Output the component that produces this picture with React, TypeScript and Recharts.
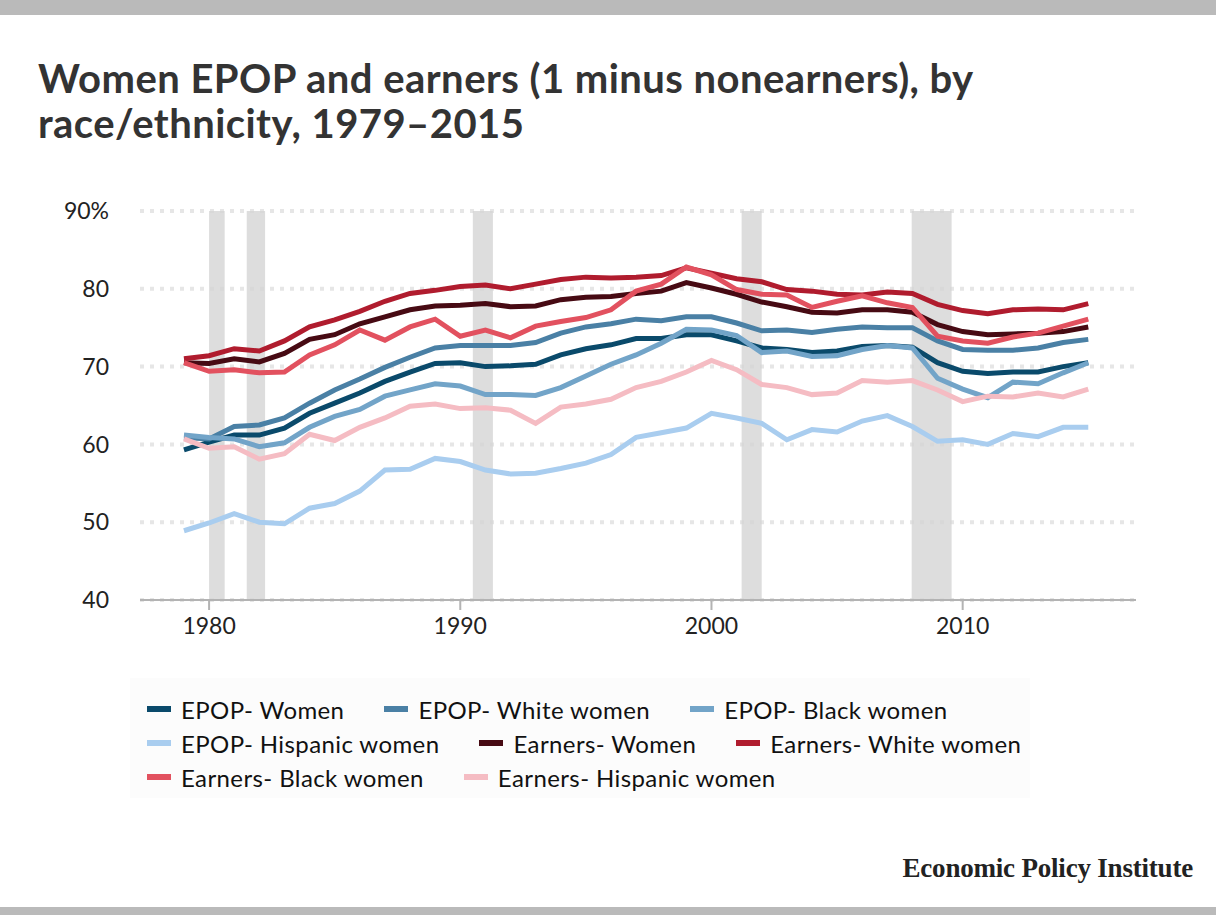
import React from "react"
import {
  LineChart,
  Line,
  XAxis,
  YAxis,
  CartesianGrid,
  ReferenceArea,
  Legend,
} from "recharts"

const years = [
  1979, 1980, 1981, 1982, 1983, 1984, 1985, 1986, 1987, 1988, 1989, 1990,
  1991, 1992, 1993, 1994, 1995, 1996, 1997, 1998, 1999, 2000,
  2001, 2002, 2003, 2004, 2005, 2006, 2007, 2008, 2009, 2010,
  2011, 2012, 2013, 2014, 2015,
]

const epopWomen = [
  59.3, 60.3, 61.2, 61.2, 62.1, 64.0, 65.3, 66.6, 68.1, 69.3, 70.4, 70.5,
  70.0, 70.1, 70.3, 71.5, 72.3, 72.8, 73.6, 73.6, 74.1, 74.1,
  73.3, 72.4, 72.2, 71.8, 72.0, 72.6, 72.7, 72.5, 70.5, 69.4,
  69.1, 69.3, 69.3, 70.0, 70.5,
]

const epopWhite = [
  60.9, 60.7, 62.3, 62.5, 63.4, 65.3, 67.0, 68.4, 69.9, 71.2, 72.4, 72.7,
  72.7, 72.7, 73.1, 74.3, 75.1, 75.5, 76.1, 75.9, 76.4, 76.4,
  75.6, 74.6, 74.7, 74.4, 74.8, 75.1, 75.0, 75.0, 73.3, 72.2,
  72.1, 72.1, 72.4, 73.1, 73.5,
]

const epopBlack = [
  61.2, 60.9, 60.7, 59.7, 60.2, 62.2, 63.6, 64.5, 66.2, 67.0, 67.8, 67.5,
  66.4, 66.4, 66.3, 67.3, 68.8, 70.3, 71.5, 73.0, 74.8, 74.7,
  74.0, 71.8, 72.0, 71.3, 71.4, 72.2, 72.7, 72.4, 68.5, 67.1,
  66.0, 68.0, 67.8, 69.2, 70.5,
]

const epopHispanic = [
  48.9, 49.9, 51.1, 50.0, 49.8, 51.8, 52.4, 54.0, 56.7, 56.8, 58.2, 57.8,
  56.7, 56.2, 56.3, 56.9, 57.6, 58.7, 60.9, 61.5, 62.1, 64.0,
  63.4, 62.7, 60.6, 61.9, 61.6, 63.0, 63.7, 62.3, 60.4, 60.6,
  60.0, 61.4, 61.0, 62.2, 62.2,
]

const earnersWomen = [
  70.5, 70.4, 71.0, 70.6, 71.7, 73.5, 74.1, 75.5, 76.4, 77.3, 77.8, 77.9,
  78.1, 77.7, 77.8, 78.6, 78.9, 79.0, 79.4, 79.7, 80.8, 80.1,
  79.3, 78.3, 77.7, 77.0, 76.9, 77.3, 77.3, 77.0, 75.4, 74.5,
  74.1, 74.2, 74.3, 74.5, 75.1,
]

const earnersWhite = [
  71.0, 71.4, 72.3, 72.0, 73.3, 75.1, 76.0, 77.1, 78.4, 79.4, 79.8, 80.3,
  80.5, 80.0, 80.6, 81.2, 81.5, 81.4, 81.5, 81.7, 82.7, 82.0,
  81.3, 80.9, 79.9, 79.7, 79.3, 79.2, 79.6, 79.4, 78.0, 77.2,
  76.8, 77.3, 77.4, 77.3, 78.1,
]

const earnersBlack = [
  70.5, 69.4, 69.6, 69.2, 69.3, 71.5, 72.8, 74.7, 73.4, 75.1, 76.1, 73.9,
  74.7, 73.7, 75.2, 75.8, 76.3, 77.3, 79.7, 80.6, 82.8, 81.8,
  79.9, 79.3, 79.2, 77.6, 78.4, 79.1, 78.2, 77.6, 73.9, 73.3,
  73.0, 73.8, 74.3, 75.2, 76.1,
]

const earnersHispanic = [
  60.7, 59.5, 59.7, 58.1, 58.8, 61.3, 60.5, 62.2, 63.4, 64.9, 65.2, 64.6,
  64.7, 64.4, 62.7, 64.8, 65.2, 65.8, 67.3, 68.1, 69.3, 70.8,
  69.6, 67.7, 67.3, 66.4, 66.6, 68.2, 68.0, 68.2, 67.0, 65.5,
  66.2, 66.1, 66.6, 66.1, 67.1,
]

// recession bands (start, end in fractional years)
const recessionStarts = [1980.0, 1981.5, 1990.5, 2001.2, 2007.97]
const recessionEnds = [1980.62, 1982.23, 1991.3, 2002.0, 2009.56]

const xTicks = [1980, 1990, 2000, 2010]
const yTicks = [40, 50, 60, 70, 80, 90]

const series = [
  { key: "epopWomen", name: "EPOP- Women", color: "#0a4a6b" },
  { key: "epopWhite", name: "EPOP- White women", color: "#4a80a5" },
  { key: "epopBlack", name: "EPOP- Black women", color: "#72a4c8" },
  { key: "epopHispanic", name: "EPOP- Hispanic women", color: "#a9cdef" },
  { key: "earnersWomen", name: "Earners- Women", color: "#470a13" },
  { key: "earnersWhite", name: "Earners- White women", color: "#b01c2e" },
  { key: "earnersBlack", name: "Earners- Black women", color: "#e2515f" },
  { key: "earnersHispanic", name: "Earners- Hispanic women", color: "#f5bcc3" },
]

const data = years.map((year, i) => ({
  year,
  epopWomen: epopWomen[i],
  epopWhite: epopWhite[i],
  epopBlack: epopBlack[i],
  epopHispanic: epopHispanic[i],
  earnersWomen: earnersWomen[i],
  earnersWhite: earnersWhite[i],
  earnersBlack: earnersBlack[i],
  earnersHispanic: earnersHispanic[i],
}))

const FONT = "Lato, 'Open Sans', sans-serif"

function renderLegend() {
  return (
    <div style={{ position: "relative", width: 900, height: 120, background: "#fcfcfc" }}>
      <div
        style={{
          position: "absolute",
          left: 17,
          top: 14,
          width: 1000,
          display: "flex",
          flexWrap: "wrap",
          columnGap: 40,
          fontFamily: FONT,
          fontSize: 24,
          letterSpacing: 0.4,
          color: "#111",
        }}
      >
        {series.map((s) => (
          <div key={s.key} style={{ display: "flex", alignItems: "center", height: 34 }}>
            <span style={{ display: "inline-block", width: 24, height: 6, background: s.color, marginRight: 10 }} />
            <span>{s.name}</span>
          </div>
        ))}
      </div>
    </div>
  )
}

export default function App() {
  return (
    <div style={{ position: "absolute", left: 0, top: 0, width: 1216, height: 915, background: "#fff", overflow: "hidden" }}>
      <div style={{ position: "absolute", left: 0, top: 0, width: 1216, height: 15, background: "#bababa" }} />
      <div
        style={{
          position: "absolute",
          left: 38,
          top: 56,
          fontFamily: FONT,
          fontWeight: 700,
          fontSize: 40,
          lineHeight: "45px",
          letterSpacing: 0.45,
          color: "#333",
          whiteSpace: "nowrap",
        }}
      >
        Women EPOP and earners (1 minus nonearners), by
        <br />
        race/ethnicity, 1979–2015
      </div>

      <div style={{ position: "absolute", left: 0, top: 0 }}>
        <LineChart width={1216} height={915} data={data} margin={{ top: 211, right: 80, bottom: 275, left: 0 }}>
          <CartesianGrid vertical={false} stroke="#e6e6e6" strokeWidth={4} strokeDasharray="4 6" />
          {recessionStarts.map((start, i) => (
            <ReferenceArea
              key={`rec-${i}`}
              x1={start}
              x2={recessionEnds[i]}
              y1={40}
              y2={90}
              fill="#d4d4d4"
              fillOpacity={0.8}
              stroke="none"
              ifOverflow="hidden"
            />
          ))}
          <XAxis
            dataKey="year"
            type="number"
            domain={[1977.25, 2016.9]}
            ticks={xTicks}
            allowDataOverflow
            height={40}
            tickSize={10}
            tickMargin={8}
            stroke="#b3b3b3"
            strokeWidth={2}
            tick={{ fill: "#222", fontSize: 23, fontFamily: FONT }}
          />
          <YAxis
            type="number"
            domain={[40, 90]}
            ticks={yTicks}
            width={140}
            axisLine={false}
            tickLine={false}
            tickSize={0}
            tickMargin={31}
            tickFormatter={(v) => (v === 90 ? "90%" : String(v))}
            tick={{ fill: "#222", fontSize: 23, fontFamily: FONT }}
          />
          {series.map((s) => (
            <Line
              key={s.key}
              type="linear"
              dataKey={s.key}
              name={s.name}
              stroke={s.color}
              strokeWidth={5}
              dot={false}
              activeDot={false}
              isAnimationActive={false}
            />
          ))}
          <Legend
            layout="horizontal"
            verticalAlign="middle"
            align="center"
            content={renderLegend}
            wrapperStyle={{ top: 678, left: 130, width: 900 }}
          />
        </LineChart>
      </div>

      <div
        style={{
          position: "absolute",
          right: 23,
          top: 853,
          fontFamily: "'Liberation Serif', 'DejaVu Serif', serif",
          fontWeight: 700,
          fontSize: 27,
          color: "#222",
          letterSpacing: -0.2,
        }}
      >
        Economic Policy Institute
      </div>
      <div style={{ position: "absolute", left: 0, top: 907, width: 1216, height: 8, background: "#bababa" }} />
    </div>
  )
}
